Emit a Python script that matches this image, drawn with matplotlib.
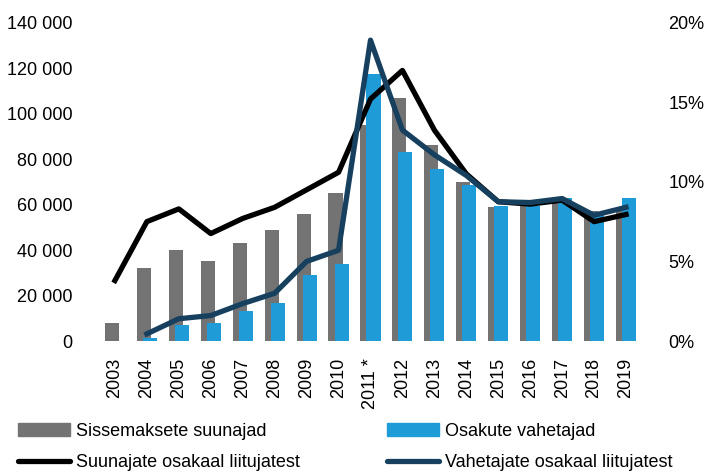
import numpy as np
import matplotlib
matplotlib.use("Agg")
import matplotlib.pyplot as plt
from matplotlib.ticker import FuncFormatter
from matplotlib.patches import Patch
from matplotlib.lines import Line2D

plt.rcParams['font.family'] = ['Liberation Sans', 'DejaVu Sans']

years = ['2003', '2004', '2005', '2006', '2007', '2008', '2009', '2010', '2011 *',
         '2012', '2013', '2014', '2015', '2016', '2017', '2018', '2019']

# Sissemaksete suunajad (count)
suunajad = [8000, 32000, 40000, 35000, 43000, 49000, 56000, 65000, 95000,
            107000, 86000, 70000, 59000, 60000, 63000, 57000, 57000]
# Osakute vahetajad (count)
vahetajad = [np.nan, 1500, 7000, 7800, 13000, 16500, 29000, 34000, 117500,
             83000, 75500, 68500, 59400, 59300, 63000, 56800, 63000]
# Suunajate osakaal liitujatest (%)
suun_osa = [3.8, 7.5, 8.3, 6.75, 7.7, 8.4, 9.5, 10.6, 15.2,
            17.0, 13.25, 10.5, 8.75, 8.6, 8.85, 7.5, 7.95]
# Vahetajate osakaal liitujatest (%)
vahe_osa = [np.nan, 0.45, 1.4, 1.6, 2.35, 3.0, 5.0, 5.7, 18.9,
            13.25, 11.7, 10.4, 8.75, 8.7, 8.95, 7.9, 8.4]

gray = '#737373'
blue = '#1f9bd7'
navy = '#17405f'

fig = plt.figure(figsize=(7.12, 4.72), dpi=100)
ax = fig.add_axes([0.139, 0.2775, 0.7627, 0.6745])
x = np.arange(len(years))

ax.bar(x - 0.095, suunajad, width=0.44, color=gray, zorder=2)
ax.bar(x + 0.095, vahetajad, width=0.44, color=blue, zorder=3)
ax.set_xlim(-0.5, len(years) - 0.5)
ax.set_ylim(0, 140000)
ax.set_yticks(range(0, 140001, 20000))
ax.yaxis.set_major_formatter(FuncFormatter(lambda v, p: f"{int(v):,}".replace(',', ' ')))
ax.set_xticks(x)
ax.set_xticklabels(years, rotation=90)
for s in ax.spines.values():
    s.set_visible(False)
ax.tick_params(axis='both', length=0, labelsize=13)
ax.tick_params(axis='y', pad=19)
ax.tick_params(axis='x', pad=12)

ax2 = ax.twinx()
ax2.plot(x, suun_osa, color='black', lw=3.8)
ax2.plot(x, vahe_osa, color=navy, lw=3.8)
ax2.set_ylim(0, 20)
ax2.set_yticks(range(0, 21, 5))
ax2.yaxis.set_major_formatter(FuncFormatter(lambda v, p: f"{int(v)}%"))
for s in ax2.spines.values():
    s.set_visible(False)
ax2.tick_params(axis='y', length=0, labelsize=13, pad=19)

handles = [Patch(color=gray), Line2D([], [], color='black', lw=3.8, solid_capstyle='round'),
           Patch(color=blue), Line2D([], [], color=navy, lw=3.8, solid_capstyle='round')]
labels = ['Sissemaksete suunajad', 'Suunajate osakaal liitujatest',
          'Osakute vahetajad', 'Vahetajate osakaal liitujatest']
fig.legend(handles, labels, ncol=2, loc='upper left', bbox_to_anchor=(0.025, 0.104),
           frameon=False, fontsize=13, handlelength=2.9, handleheight=0.75,
           handletextpad=0.3, columnspacing=4.85, labelspacing=0.8,
           borderaxespad=0, borderpad=0)

fig.savefig('out.png', dpi=100)
